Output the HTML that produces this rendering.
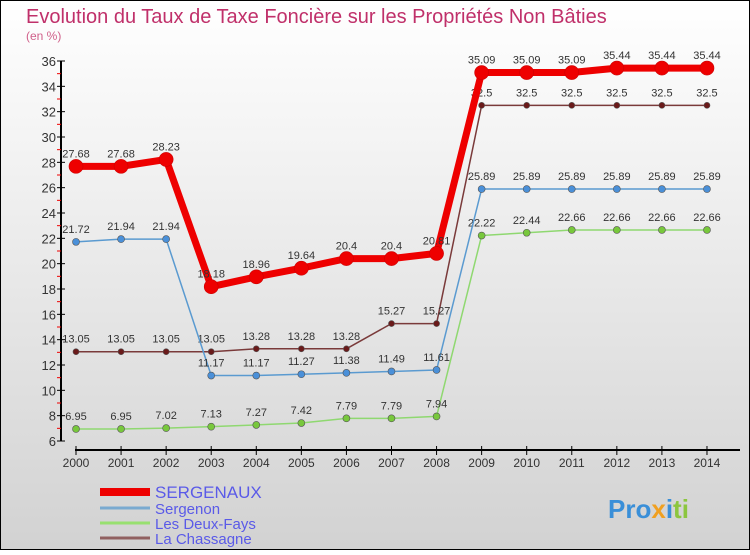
<!DOCTYPE html>
<html><head><meta charset="utf-8"><style>
body{margin:0;}
#c{width:750px;height:550px;position:relative;font-family:"Liberation Sans",sans-serif;}
</style></head><body>
<div id="c">
<svg id="s" width="750" height="550" xmlns="http://www.w3.org/2000/svg">
<defs><linearGradient id="bg" x1="0" y1="0" x2="0" y2="1"><stop offset="0" stop-color="#ffffff"/><stop offset="1" stop-color="#d2d2d2"/></linearGradient></defs>
<rect x="0.5" y="0.5" width="749" height="549" fill="url(#bg)" stroke="#000"/>
<text x="26" y="23" font-size="20" fill="#c0306a">Evolution du Taux de Taxe Foncière sur les Propriétés Non Bâties</text>
<text x="26" y="40" font-size="12" fill="#d0608a">(en %)</text>
<g id="axes"></g><g id="series"></g><g id="legend"></g>
<text x="608" y="518" font-size="26" font-weight="bold" fill="#3a8fd8">Pro<tspan fill="#f0a020">x</tspan><tspan fill="#3a8fd8">i</tspan><tspan fill="#8cc63f">ti</tspan></text>
</svg>
</div>
<script>
const years=[2000,2001,2002,2003,2004,2005,2006,2007,2008,2009,2010,2011,2012,2013,2014];
const yTicks=[6,8,10,12,14,16,18,20,22,24,26,28,30,32,34,36];
const sergenaux=[27.68,27.68,28.23,18.18,18.96,19.64,20.4,20.4,20.81,35.09,35.09,35.09,35.44,35.44,35.44];
const sergenon=[21.72,21.94,21.94,11.17,11.17,11.27,11.38,11.49,11.61,25.89,25.89,25.89,25.89,25.89,25.89];
const deuxFays=[6.95,6.95,7.02,7.13,7.27,7.42,7.79,7.79,7.94,22.22,22.44,22.66,22.66,22.66,22.66];
const chassagne=[13.05,13.05,13.05,13.05,13.28,13.28,13.28,15.27,15.27,32.5,32.5,32.5,32.5,32.5,32.5];
const NS="http://www.w3.org/2000/svg";
const X=i=>76+i*45.07, Y=v=>441-(v-6)*380/30;
function mk(p,t,a){const e=document.createElementNS(NS,t);for(const k in a)e.setAttribute(k,a[k]);p.appendChild(e);return e;}
const ax=document.getElementById('axes');
let l=mk(ax,'line',{x1:61,y1:61,x2:61,y2:441,stroke:'#000','stroke-width':2});

l=mk(ax,'line',{x1:75,y1:450,x2:740,y2:450,stroke:'#000','stroke-width':2});

yTicks.forEach(v=>{mk(ax,'line',{x1:57,x2:65,y1:Y(v),y2:Y(v),stroke:'#000'});
 if(v<36)mk(ax,'line',{x1:57,x2:61,y1:Y(v+1),y2:Y(v+1),stroke:'#e00'});
 const t=mk(ax,'text',{x:56,y:Y(v)+5,'text-anchor':'end','font-size':13,fill:'#333'});t.textContent=v;
 });
years.forEach((y,i)=>{mk(ax,'line',{x1:X(i),x2:X(i),y1:446,y2:455,stroke:'#000'});
 const t=mk(ax,'text',{x:X(i),y:467,'text-anchor':'middle','font-size':12,fill:'#333'});t.textContent=y;
 });
const sg=document.getElementById('series');
const defs=[[chassagne,'#7a3a3a','#6a1a1a',1.5,3,'la-chassagne'],[deuxFays,'#8fd870','#78c83c',1.5,3.5,'les-deux-fays'],[sergenon,'#5a9ad0','#4a90d9',1.5,3.5,'sergenon'],[sergenaux,'#ee0000','#ee0000',7,7,'sergenaux']];
defs.forEach(([d,lc,pc,w,r,n])=>{
 const g=mk(sg,'g',{});
 const p=mk(g,'polyline',{points:d.map((v,i)=>X(i)+','+Y(v)).join(' '),fill:'none',stroke:lc,'stroke-width':w,'stroke-linejoin':'round'});
 
 d.forEach((v,i)=>{const c=mk(g,'circle',{cx:X(i),cy:Y(v),r:r,fill:pc,stroke:w>5?'#c00':'#555','stroke-width':0.6});
  
  const t=mk(g,'text',{x:X(i),y:Y(v)-9,'text-anchor':'middle','font-size':11,fill:'#333'});t.textContent=v;
  });
});
const lg=document.getElementById('legend');
[['SERGENAUX','#ee0000',8,17,492],['Sergenon','#7aaad0',3,15,508],['Les Deux-Fays','#98e070',3,15,523],['La Chassagne','#906060',3,15,538]].forEach(([n,c,w,f,y])=>{
 const g=mk(lg,'g',{});
 mk(g,'line',{x1:100,x2:150,y1:y,y2:y,stroke:c,'stroke-width':w});
 const t=mk(g,'text',{x:155,y:y+6,'font-size':f,fill:'#5a5ae8'});t.textContent=n;});
</script>
</body></html>
